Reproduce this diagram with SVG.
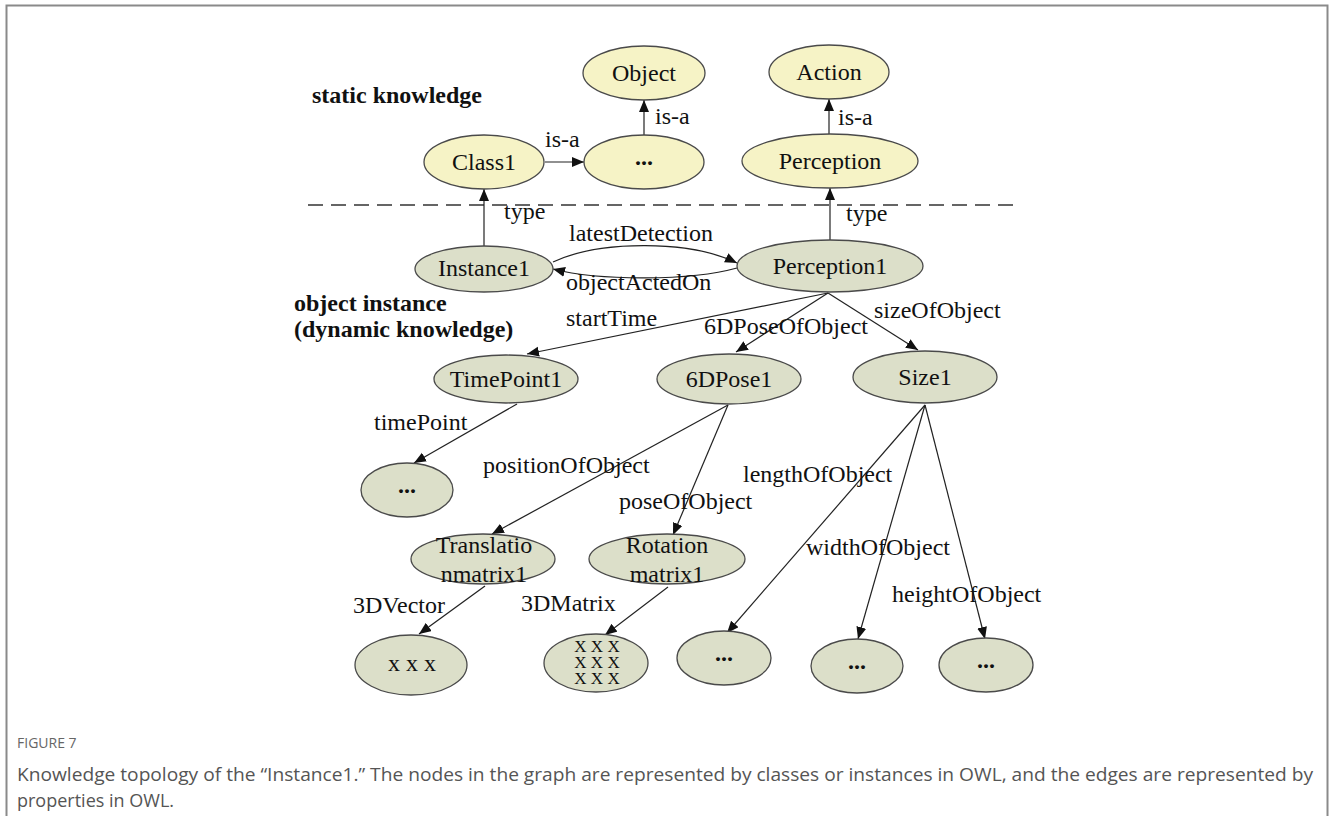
<svg xmlns="http://www.w3.org/2000/svg" width="1330" height="816" viewBox="0 0 1330 816">
  <style>
    .frame { fill: none; stroke: #8a8a8a; stroke-width: 2; }
    .cls { fill: #f6f3c6; stroke: #4a4a4a; stroke-width: 1.3; }
    .inst { fill: #dcdfc9; stroke: #4a4a4a; stroke-width: 1.3; }
    .lbl { font-family: "Liberation Serif", "Times New Roman", serif; font-size: 24px; fill: #111; }
    .mid { text-anchor: middle; }
    .dots { font-weight: bold; }
    .sec { font-family: "Liberation Serif", "Times New Roman", serif; font-size: 24px; font-weight: bold; fill: #111; }
    .mat { font-family: "Liberation Serif", "Times New Roman", serif; font-size: 17px; fill: #111; text-anchor: middle; }
    .edge { fill: none; stroke: #222; stroke-width: 1.2; marker-end: url(#arrow); }
    .sep { stroke: #333; stroke-width: 1.4; stroke-dasharray: 15 8; }
    .caphead { font-family: "Open Sans", "Noto Sans", sans-serif; font-size: 14px; fill: #666; }
    .cap { font-family: "Open Sans", "Noto Sans", sans-serif; font-size: 18px; fill: #555; }
  </style>
  <defs>
    <marker id="arrow" markerUnits="userSpaceOnUse" markerWidth="13" markerHeight="11" refX="12" refY="5" orient="auto">
      <path d="M0,0 L12,5 L0,10 z" fill="#111"/>
    </marker>
  </defs>

  <rect class="frame" x="6.5" y="5.5" width="1321" height="830"/>

  <!-- section labels and separator -->
  <text class="sec" x="312" y="103">static knowledge</text>
  <text class="sec" x="294" y="311">object instance</text>
  <text class="sec" x="294" y="337">(dynamic knowledge)</text>
  <line class="sep" x1="308" y1="205" x2="1018" y2="205"/>

  <!-- connectors -->
  <g id="connectors">
    <path class="edge" d="M545,162 L584,162"/>
    <path class="edge" d="M644,136 L644,100"/>
    <path class="edge" d="M829,135 L829,99"/>
    <path class="edge" d="M484,247 L484,189"/>
    <path class="edge" d="M830,240 L830,188"/>
    <path class="edge" d="M553,262 C600,240 690,240 737,263"/>
    <path class="edge" d="M737,268 C690,281 600,281 553,269"/>
    <path class="edge" d="M828,293 L527,354"/>
    <path class="edge" d="M828,293 L736,352"/>
    <path class="edge" d="M828,293 L918,350"/>
    <path class="edge" d="M517,404 L414,463"/>
    <path class="edge" d="M728,405 L492,534"/>
    <path class="edge" d="M728,405 L673,535"/>
    <path class="edge" d="M925,405 L727,633"/>
    <path class="edge" d="M925,405 L858,639"/>
    <path class="edge" d="M925,405 L985,639"/>
    <path class="edge" d="M485,586 L419,634"/>
    <path class="edge" d="M668,587 L605,635"/>

    <text class="lbl" x="545" y="147">is-a</text>
    <text class="lbl" x="655" y="124">is-a</text>
    <text class="lbl" x="838" y="125">is-a</text>
    <text class="lbl" x="504" y="219">type</text>
    <text class="lbl" x="846" y="221">type</text>
    <text class="lbl" x="569" y="241">latestDetection</text>
    <text class="lbl" x="566" y="290">objectActedOn</text>
    <text class="lbl" x="566" y="326">startTime</text>
    <text class="lbl" x="704" y="334">6DPoseOfObject</text>
    <text class="lbl" x="874" y="318">sizeOfObject</text>
    <text class="lbl" x="374" y="430">timePoint</text>
    <text class="lbl" x="483" y="473">positionOfObject</text>
    <text class="lbl" x="619" y="509">poseOfObject</text>
    <text class="lbl" x="743" y="482">lengthOfObject</text>
    <text class="lbl" x="806" y="555">widthOfObject</text>
    <text class="lbl" x="892" y="602">heightOfObject</text>
    <text class="lbl" x="353" y="613">3DVector</text>
    <text class="lbl" x="521" y="611">3DMatrix</text>
  </g>

  <!-- static knowledge: classes -->
  <g id="object">
    <ellipse class="cls" cx="644" cy="73" rx="61" ry="27"/>
    <text class="lbl mid" x="644" y="81">Object</text>
  </g>
  <g id="action">
    <ellipse class="cls" cx="829" cy="72" rx="60" ry="27"/>
    <text class="lbl mid" x="829" y="80">Action</text>
  </g>
  <g id="class1">
    <ellipse class="cls" cx="484" cy="162" rx="60" ry="27"/>
    <text class="lbl mid" x="484" y="170">Class1</text>
  </g>
  <g id="superclass">
    <ellipse class="cls" cx="644" cy="162" rx="60" ry="27"/>
    <text class="lbl mid dots" x="644" y="165">...</text>
  </g>
  <g id="perception">
    <ellipse class="cls" cx="830" cy="161" rx="88" ry="27"/>
    <text class="lbl mid" x="830" y="169">Perception</text>
  </g>

  <!-- dynamic knowledge: instances -->
  <g id="instance1">
    <ellipse class="inst" cx="484" cy="269" rx="69" ry="23"/>
    <text class="lbl mid" x="484" y="276">Instance1</text>
  </g>
  <g id="perception1">
    <ellipse class="inst" cx="830" cy="266" rx="93" ry="26"/>
    <text class="lbl mid" x="830" y="274">Perception1</text>
  </g>
  <g id="timepoint1">
    <ellipse class="inst" cx="506" cy="379" rx="72" ry="24"/>
    <text class="lbl mid" x="506" y="387">TimePoint1</text>
  </g>
  <g id="pose1">
    <ellipse class="inst" cx="729" cy="379" rx="72" ry="25"/>
    <text class="lbl mid" x="729" y="387">6DPose1</text>
  </g>
  <g id="size1">
    <ellipse class="inst" cx="925" cy="377" rx="72" ry="26"/>
    <text class="lbl mid" x="925" y="385">Size1</text>
  </g>
  <g id="timevalue">
    <ellipse class="inst" cx="407" cy="490" rx="46" ry="27"/>
    <text class="lbl mid dots" x="407" y="493">...</text>
  </g>
  <g id="translation">
    <ellipse class="inst" cx="483" cy="559" rx="72" ry="25"/>
    <text class="lbl mid" x="484" y="553">Translatio</text>
    <text class="lbl mid" x="484" y="582">nmatrix1</text>
  </g>
  <g id="rotation">
    <ellipse class="inst" cx="667" cy="559" rx="78" ry="25"/>
    <text class="lbl mid" x="667" y="553">Rotation</text>
    <text class="lbl mid" x="667" y="582">matrix1</text>
  </g>
  <g id="vector">
    <ellipse class="inst" cx="411" cy="665" rx="56" ry="30"/>
    <text class="lbl mid" x="412" y="671">x x x</text>
  </g>
  <g id="matrix">
    <ellipse class="inst" cx="596" cy="663" rx="52" ry="29"/>
    <text class="mat" x="597" y="652">X X X</text>
    <text class="mat" x="597" y="668">X X X</text>
    <text class="mat" x="597" y="684">X X X</text>
  </g>
  <g id="length">
    <ellipse class="inst" cx="724" cy="658" rx="47" ry="27"/>
    <text class="lbl mid dots" x="724" y="661">...</text>
  </g>
  <g id="width">
    <ellipse class="inst" cx="857" cy="666" rx="46" ry="27"/>
    <text class="lbl mid dots" x="857" y="669">...</text>
  </g>
  <g id="height">
    <ellipse class="inst" cx="986" cy="665" rx="47" ry="27"/>
    <text class="lbl mid dots" x="986" y="668">...</text>
  </g>

  <!-- caption -->
  <text class="caphead" x="17" y="748">FIGURE 7</text>
  <text class="cap" x="17" y="781" textLength="1296" lengthAdjust="spacingAndGlyphs">Knowledge topology of the “Instance1.” The nodes in the graph are represented by classes or instances in OWL, and the edges are represented by</text>
  <text class="cap" x="17" y="807">properties in OWL.</text>
</svg>
